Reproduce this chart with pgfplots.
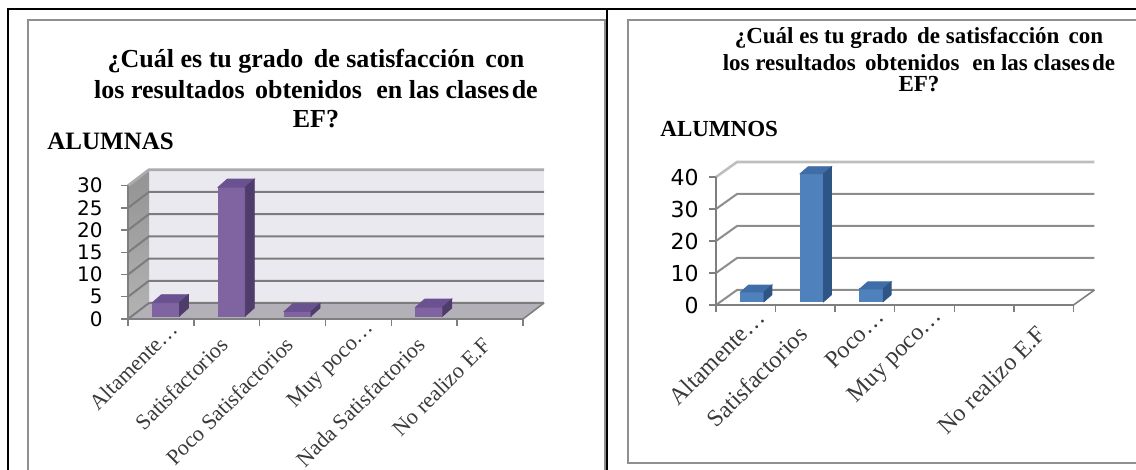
\documentclass[border=0pt]{standalone}
\usepackage{fontspec}
\usepackage{pgfplots}
\usepackage{pgfplotstable}
\pgfplotsset{compat=1.18}
\setmainfont{Liberation Serif}
\newfontfamily\dejavu{DejaVu Sans}

\definecolor{framegray}{HTML}{8F8F8F}
\definecolor{purpleF}{HTML}{8064A2}
\definecolor{purpleT}{HTML}{6A5290}
\definecolor{purpleS}{HTML}{4E3D6B}
\definecolor{blueF}{HTML}{4F81BD}
\definecolor{blueT}{HTML}{3E6DA8}
\definecolor{blueS}{HTML}{2F5587}
\definecolor{wallL}{HTML}{EBE9F0}
\definecolor{floorL}{HTML}{B4B0B8}
\definecolor{sideTop}{HTML}{939393}
\definecolor{sideBot}{HTML}{B3B3B3}
\definecolor{gridL}{HTML}{7C7C7C}
\definecolor{gridTopL}{HTML}{ABABAB}
\definecolor{gridR}{HTML}{8D8D8D}
\definecolor{gridTopR}{HTML}{BEBEBE}
\definecolor{tickc}{HTML}{7F7F7F}
\definecolor{labelgray}{HTML}{3A3A3A}

% an empty plot mark: the prisms are drawn by the scatter code
\pgfdeclareplotmark{void}{}

% answers of the girls
\pgfplotstableread{
pos v
0.5 3
1.5 29
2.5 1
3.5 0
4.5 2
5.5 0
}\alumnas

% answers of the boys
\pgfplotstableread{
pos v
0.5 3
1.5 40
2.5 4
3.5 0
4.5 0
5.5 0
}\alumnos

% 3-D column: front face, top face and right side face,
% drawn around the top-centre point of each value
\pgfplotsset{
  prism/.style={
    scatter, only marks, mark=void,
    visualization depends on={\thisrow{v}\as\barv},
    scatter/@pre marker code/.code={%
      \pgfmathsetlengthmacro\bh{\barv*\yu}%
      \ifdim\bh>0.01pt
        \fill[bfront] ({\sx-\hw},{\sy-\bh}) rectangle ({\sx+\hw},\sy);
        \fill[btop] ({\sx-\hw},\sy) -- ({\sx+\hw},\sy) -- ++(\ddx,\ddy) -- ++({-2*\hw},0) -- cycle;
        \fill[bside] ({\sx+\hw},\sy) -- ++(\ddx,\ddy) -- ++(0,{-\bh}) -- ({\sx+\hw},{\sy-\bh}) -- cycle;
      \fi},
    scatter/@post marker code/.code={},
  },
  flat3d/.style={
    clip=false,
    axis line style={draw=none},
    tick style={draw=none},
    major tick length=0pt,
    xmin=0, xmax=6, ymin=0,
    xtick={0.5,1.5,2.5,3.5,4.5,5.5},
    /pgf/number format/assume math mode=true,
  },
}

\begin{document}
\begin{tikzpicture}
\useasboundingbox (0pt,0pt) rectangle (568pt,235pt);

% table rules and chart frames
\draw[framegray, line width=1.1pt] (302.5pt,-5pt) -- (302.5pt,225pt) -- (14pt,225pt) -- (14pt,-5pt);
\draw[framegray, line width=1.1pt] (575pt,225pt) -- (314pt,225pt) -- (314pt,3.5pt) -- (575pt,3.5pt);
\draw[black, line width=1pt] (4pt,-2pt) -- (4pt,230.5pt) -- (570pt,230.5pt);
\draw[black, line width=1pt] (303.5pt,-2pt) -- (303.5pt,230.5pt);

% ---------- left chart: ALUMNAS ----------
\begin{scope}[font=\bfseries\fontsize{13}{15}\selectfont]
\node[anchor=base, inner sep=0pt] at (158pt,201pt) {¿Cuál es tu grado\hspace{.4em}de satisfacción\hspace{.4em}con};
\node[anchor=base, inner sep=0pt] at (158pt,185.5pt) {los resultados\hspace{.4em}obtenidos\hspace{.55em}en las clases\hspace{.1em}de};
\node[anchor=base, inner sep=0pt] at (158pt,171pt) {EF?};
\end{scope}
\node[anchor=base west, inner sep=0pt, font=\bfseries\fontsize{12.5}{15}\selectfont] at (23.5pt,160pt) {ALUMNAS};

\def\hw{6.75pt}\def\sx{2.5pt}\def\sy{1.5pt}\def\ddx{4.5pt}\def\ddy{4pt}\def\yu{2.2215pt}
\colorlet{bfront}{purpleF}\colorlet{btop}{purpleT}\colorlet{bside}{purpleS}
\begin{axis}[flat3d,
  at={(64pt,75.5pt)}, anchor=south west,
  x=32.917pt, y=2.2215pt, ymax=30,
  ytick={0,5,...,30},
  xticklabels={Altamente\rlap{…},Satisfactorios,Poco Satisfactorios,Muy poco\rlap{…},Nada Satisfactorios,No realizo E.F},
  yticklabel style={font=\dejavu\fontsize{10}{12}\selectfont, anchor=east, inner sep=0pt, xshift=-12.5pt},
  xticklabel style={font=\fontsize{11}{13}\selectfont, text=labelgray, inner sep=0pt, xshift=-1.35pt, yshift=-11pt, rotate=45, anchor=east},
]
% walls and floor
\fill[wallL] ([shift={(10.5pt,8pt)}]axis cs:0,0) rectangle ([shift={(10.5pt,8pt)}]axis cs:6,30);
\path[top color=sideTop, bottom color=sideBot] (axis cs:0,0) -- ([shift={(10.5pt,8pt)}]axis cs:0,0) -- ([shift={(10.5pt,8pt)}]axis cs:0,30) -- (axis cs:0,30) -- cycle;
\fill[floorL] (axis cs:0,0) -- ([shift={(10.5pt,8pt)}]axis cs:0,0) -- ([shift={(10.5pt,8pt)}]axis cs:6,0) -- (axis cs:6,0) -- cycle;
\pgfplotsinvokeforeach{0,5,10,15,20,25}{
  \draw[gridL, line width=1pt] (axis cs:0,#1) -- ([shift={(10.5pt,8pt)}]axis cs:0,#1) -- ([shift={(10.5pt,8pt)}]axis cs:6,#1);
}
\draw[gridTopL, line width=1.4pt] (axis cs:0,30) -- ([shift={(10.5pt,8pt)}]axis cs:0,30) -- ([shift={(10.5pt,8pt)}]axis cs:6,30);
\draw[tickc, line width=0.8pt] (axis cs:0,30) -- (axis cs:0,0) -- (axis cs:6,0) -- ([shift={(10.5pt,8pt)}]axis cs:6,0);
\pgfplotsinvokeforeach{0,5,10,15,20,25,30}{
  \draw[tickc, line width=0.7pt] (axis cs:0,#1) -- ++(-3.5pt,0);
}
\pgfplotsinvokeforeach{0,1,2,3,4,5,6}{
  \draw[tickc, line width=0.7pt] (axis cs:#1,0) -- ++(0,-3.5pt);
}
\addplot[prism] table[x=pos, y=v] {\alumnas};
\end{axis}

% ---------- right chart: ALUMNOS ----------
\begin{scope}[font=\bfseries\fontsize{11.5}{14}\selectfont]
\node[anchor=base, inner sep=0pt] at (459.5pt,213pt) {¿Cuál es tu grado\hspace{.4em}de satisfacción\hspace{.4em}con};
\node[anchor=base, inner sep=0pt] at (459.5pt,199.5pt) {los resultados\hspace{.4em}obtenidos\hspace{.55em}en las clases\hspace{.1em}de};
\node[anchor=base, inner sep=0pt] at (459.5pt,189pt) {EF?};
\node[anchor=base west, inner sep=0pt] at (330pt,166.5pt) {ALUMNOS};
\end{scope}

\def\hw{5.85pt}\def\sx{3.25pt}\def\sy{1.65pt}\def\ddx{4pt}\def\ddy{3.5pt}\def\yu{1.6pt}
\colorlet{bfront}{blueF}\colorlet{btop}{blueT}\colorlet{bside}{blueS}
\begin{axis}[flat3d,
  at={(358pt,82.5pt)}, anchor=south west,
  x=29.79pt, y=1.6pt, ymax=40,
  ytick={0,10,...,40},
  xticklabels={Altamente\rlap{…},Satisfactorios,Poco\rlap{…},Muy poco\rlap{…},{},No realizo E.F},
  yticklabel style={font=\dejavu\fontsize{11}{13}\selectfont, anchor=east, inner sep=0pt, xshift=-8.5pt},
  xticklabel style={font=\fontsize{12}{14}\selectfont, text=labelgray, inner sep=0pt, xshift=-1pt, yshift=-12.5pt, rotate=45, anchor=east},
]
\pgfplotsinvokeforeach{0,10,20,30}{
  \draw[gridR, line width=1pt] (axis cs:0,#1) -- ([shift={(10.5pt,7.5pt)}]axis cs:0,#1) -- ([shift={(10.5pt,7.5pt)}]axis cs:6,#1);
}
\draw[gridTopR, line width=1.3pt] (axis cs:0,40) -- ([shift={(10.5pt,7.5pt)}]axis cs:0,40) -- ([shift={(10.5pt,7.5pt)}]axis cs:6,40);
\draw[tickc, line width=0.8pt] (axis cs:0,40) -- (axis cs:0,0) -- (axis cs:6,0) -- ([shift={(10.5pt,7.5pt)}]axis cs:6,0);
\pgfplotsinvokeforeach{0,10,20,30,40}{
  \draw[tickc, line width=0.7pt] (axis cs:0,#1) -- ++(-3.5pt,0);
}
\pgfplotsinvokeforeach{0,1,2,3,4,5,6}{
  \draw[tickc, line width=0.7pt] (axis cs:#1,0) -- ++(0,-3.5pt);
}
\addplot[prism] table[x=pos, y=v] {\alumnos};
\end{axis}
\end{tikzpicture}
\end{document}
